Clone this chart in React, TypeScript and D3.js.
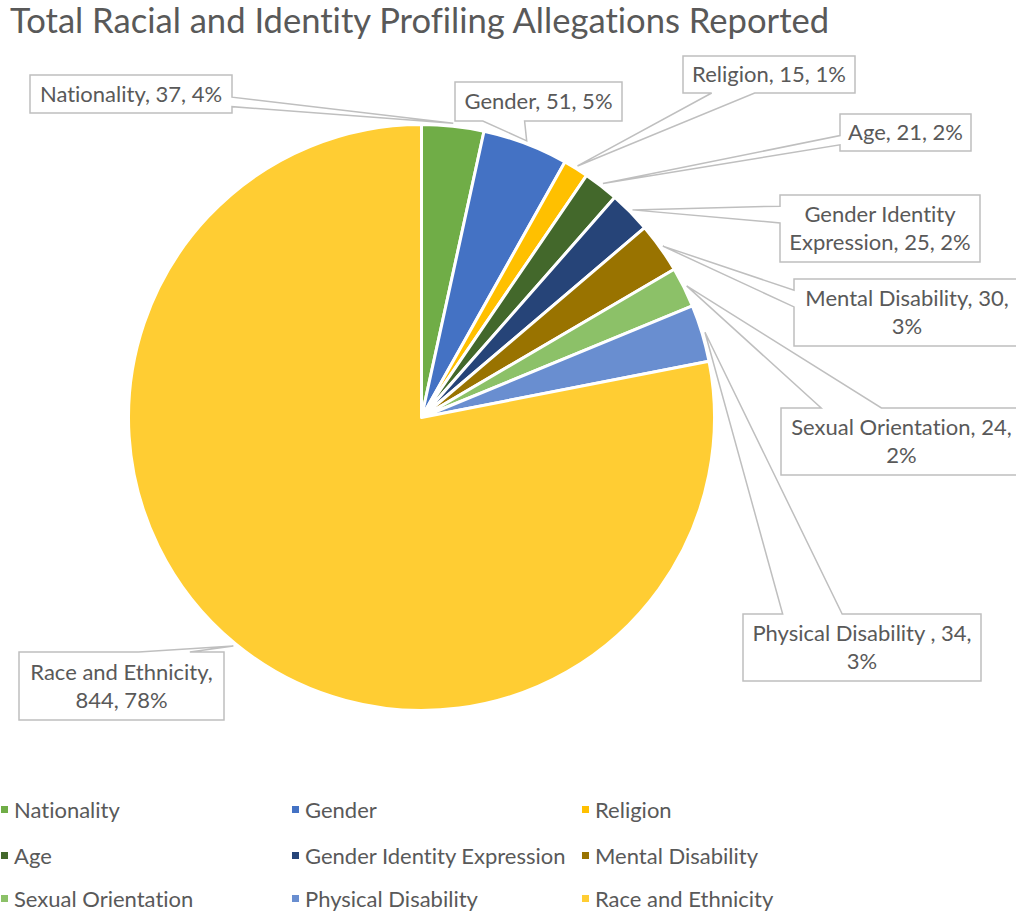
import React from "react";
import * as d3 from "d3";

const categories = [
  "Nationality",
  "Gender",
  "Religion",
  "Age",
  "Gender Identity Expression",
  "Mental Disability",
  "Sexual Orientation",
  "Physical Disability",
  "Race and Ethnicity",
];
const labelNames = [
  "Nationality",
  "Gender",
  "Religion",
  "Age",
  "Gender Identity Expression",
  "Mental Disability",
  "Sexual Orientation",
  "Physical Disability ",
  "Race and Ethnicity",
];
const values = [37, 51, 15, 21, 25, 30, 24, 34, 844];
const percentLabels = ["4%", "5%", "1%", "2%", "2%", "3%", "2%", "3%", "78%"];
const colors = [
  "#70AD47",
  "#4472C4",
  "#FFC000",
  "#43682B",
  "#264478",
  "#997300",
  "#8CC168",
  "#698ED0",
  "#FFCD33",
];
const title = "Total Racial and Identity Profiling Allegations Reported";

// label box layout: [x, y, w, h, wordsOnFirstLine (0 = single line)]
const labelBoxes: [number, number, number, number, number][] = [
  [30, 75, 202, 38, 0],
  [455, 82, 167, 39, 0],
  [683, 56, 172, 37, 0],
  [840, 114, 131, 37, 0],
  [780, 195, 200, 67, 2],
  [794, 279, 226, 67, 3],
  [781, 408, 241, 67, 3],
  [743, 614, 238, 67, 4],
  [19, 652, 205, 68, 3],
];

const W = 1016;
const H = 912;
const CX = 421.5;
const CY = 417.5;
const R = 293;
const FONT = "Lato, 'Open Sans', sans-serif";
const TEXT = "#595959";
const LINE = "#BFBFBF";

function calloutPath(x: number, y: number, w: number, h: number, tx: number, ty: number) {
  const cx = x + w / 2;
  const cy = y + h / 2;
  const dx = tx - cx;
  const dy = ty - cy;
  const dq = (dx * h) / w;
  const dz = Math.abs(dq) - Math.abs(dy);
  const xg1 = dx > 0 ? 7 : 2;
  const xg2 = dx > 0 ? 10 : 5;
  const yg1 = dy > 0 ? 7 : 2;
  const yg2 = dy > 0 ? 10 : 5;
  const x1 = x + (w * xg1) / 12;
  const x2 = x + (w * xg2) / 12;
  const y1 = y + (h * yg1) / 12;
  const y2 = y + (h * yg2) / 12;
  const p = d3.path();
  p.moveTo(x, y);
  if (dz <= 0 && dy < 0) {
    p.lineTo(x1, y);
    p.lineTo(tx, ty);
    p.lineTo(x2, y);
  }
  p.lineTo(x + w, y);
  if (dz > 0 && dx > 0) {
    p.lineTo(x + w, y1);
    p.lineTo(tx, ty);
    p.lineTo(x + w, y2);
  }
  p.lineTo(x + w, y + h);
  if (dz <= 0 && dy >= 0) {
    p.lineTo(x2, y + h);
    p.lineTo(tx, ty);
    p.lineTo(x1, y + h);
  }
  p.lineTo(x, y + h);
  if (dz > 0 && dx <= 0) {
    p.lineTo(x, y2);
    p.lineTo(tx, ty);
    p.lineTo(x, y1);
  }
  p.closePath();
  return p.toString();
}

export default function App() {
  const pie = d3
    .pie<number>()
    .sort(null)
    .startAngle(0)
    .endAngle(2 * Math.PI)
    .value((d) => d);
  const arcs = pie(values);
  const arc = d3.arc<d3.PieArcDatum<number>>().innerRadius(0).outerRadius(R);
  const tipArc = d3
    .arc<d3.PieArcDatum<number>>()
    .innerRadius(R + 3)
    .outerRadius(R + 3);

  const legendX = [0, 291, 581];
  const legendY = [810, 856, 899];

  return (
    <svg
      width={W}
      height={H}
      style={{
        position: "absolute",
        left: 0,
        top: 0,
        background: "#fff",
        fontVariantLigatures: "none",
        fontFeatureSettings: '"liga" 0, "clig" 0',
      }}
      fontFamily={FONT}
    >
      <rect x={0} y={0} width={W} height={H} fill="#fff" />
      <text x={10} y={33} fontSize={34.6} fill={TEXT}>
        {title}
      </text>
      <g transform={`translate(${CX},${CY})`}>
        {arcs.map((a, i) => (
          <path key={i} d={arc(a) || ""} fill={colors[i]} stroke="#fff" strokeWidth={3} strokeLinejoin="round" />
        ))}
      </g>
      {arcs.map((a, i) => {
        const [bx, by, bw, bh, split] = labelBoxes[i];
        const [tx0, ty0] = tipArc.centroid(a);
        const tx = tx0 + CX;
        const ty = ty0 + CY;
        const full = `${labelNames[i]}, ${values[i]}, ${percentLabels[i]}`;
        const words = full.split(" ");
        const lines = split > 0 ? [words.slice(0, split).join(" "), words.slice(split).join(" ")] : [full];
        const mx = bx + bw / 2;
        const my = by + bh / 2;
        const lh = 28;
        return (
          <g key={`l${i}`}>
            <path d={calloutPath(bx, by, bw, bh, tx, ty)} fill="#fff" stroke={LINE} strokeWidth={1.5} />
            {lines.map((ln, j) => (
              <text
                key={j}
                x={mx}
                y={my + (j - (lines.length - 1) / 2) * lh}
                dy="0.35em"
                textAnchor="middle"
                fontSize={22}
                fill={TEXT}
              >
                {ln}
              </text>
            ))}
          </g>
        );
      })}
      {categories.map((c, i) => {
        const col = i % 3;
        const row = Math.floor(i / 3);
        const x = legendX[col];
        const y = legendY[row];
        return (
          <g key={`g${i}`}>
            <rect x={x + 1} y={y - 4} width={7} height={7} fill={colors[i]} />
            <text x={x + 14} y={y} dy="0.35em" fontSize={22} fill={TEXT}>
              {c}
            </text>
          </g>
        );
      })}
    </svg>
  );
}
